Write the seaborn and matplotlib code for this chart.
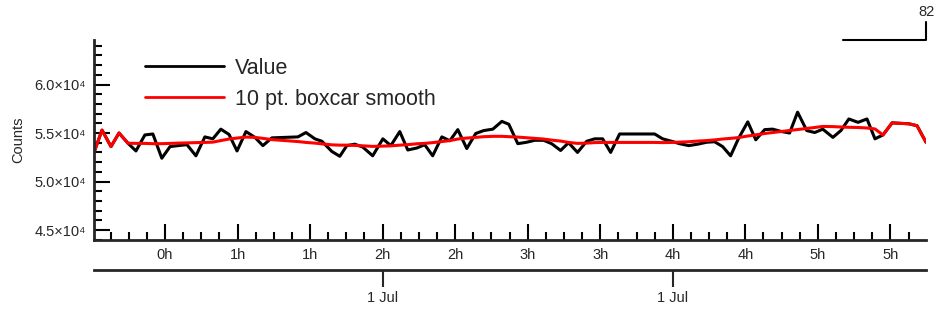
import matplotlib.pyplot as plt
from matplotlib.ticker import MultipleLocator
import pandas as pd
import seaborn as sns

# sample times (minutes after 00:00, 1 Jul)
minutes = [0.66, 3.97, 7.69, 11.0, 14.7, 18.0, 21.7, 25.0, 28.7, 32.1,
           35.4, 39.1, 42.8, 46.5, 49.8, 53.1, 56.5, 59.8, 63.5, 67.2,
           70.5, 74.2, 85.0, 88.3, 92.0, 94.9, 99.0, 102.3, 105.2, 108.5,
           111.8, 115.9, 120.1, 123.4, 127.1, 130.4, 134.1, 137.4, 140.7, 144.5,
           147.8, 151.1, 154.8, 158.5, 161.8, 165.6, 169.3, 172.2, 175.9, 179.6,
           182.9, 186.6, 189.9, 193.6, 196.9, 200.6, 204.4, 207.7, 211.0, 214.3,
           218.0, 232.5, 235.8, 239.5, 242.8, 246.6, 250.3, 254.0, 257.3, 260.6,
           263.9, 267.2, 271.0, 274.3, 278.0, 281.3, 285.0, 288.3, 291.6, 295.4,
           298.7, 302.0, 306.2, 309.5, 312.8, 316.6, 320.3, 323.6, 326.9, 330.7,
           334.0, 337.7, 341.0, 344.7]

value = [53000, 55300, 53600, 55000, 53950, 53150, 54800, 54900, 52400, 53600,
         53700, 53800, 52650, 54600, 54400, 55400, 54850, 53150, 55150, 54550,
         53700, 54500, 54600, 55050, 54400, 54150, 53100, 52600, 53700, 53850,
         53550, 52650, 54400, 53700, 55150, 53250, 53450, 53800, 52650, 54600,
         54200, 55350, 53400, 54950, 55250, 55400, 56200, 55900, 53900, 54050,
         54250, 54250, 53900, 53200, 54000, 53000, 54150, 54400, 54400, 53000,
         54900, 54900, 54400, 54150, 53900, 53700, 53850, 54050, 54100, 53600,
         52650, 54450, 56150, 54300, 55350, 55400, 55150, 55000, 57150, 55250,
         55050, 55400, 54550, 55250, 56450, 56100, 56450, 54400, 54800, 56050,
         56000, 55950, 55750, 54050]

smooth = [53000, 55300, 53600, 55000, 53950, 53930, 53930, 53900, 53900, 53930,
          53960, 53980, 54010, 54030, 54060, 54220, 54380, 54480, 54580, 54550,
          54450, 54320, 54120, 54030, 53960, 53880, 53780, 53750, 53750, 53720,
          53680, 53620, 53650, 53680, 53750, 53800, 53890, 53930, 54010, 54120,
          54220, 54380, 54480, 54550, 54620, 54660, 54660, 54620, 54580, 54510,
          54450, 54380, 54270, 54170, 54030, 53930, 53960, 54010, 54030, 54030,
          54030, 54030, 54010, 54030, 54060, 54100, 54170, 54220, 54290, 54380,
          54450, 54530, 54690, 54810, 54950, 55050, 55160, 55260, 55360, 55470,
          55570, 55680, 55660, 55620, 55590, 55570, 55520, 55420, 54800, 56050,
          56000, 55950, 55750, 54050]

hour_ticks = [30, 60, 90, 120, 150, 180, 210, 240, 270, 300, 330]
hour_labels = ["0h", "1h", "1h", "2h", "2h", "3h", "3h", "4h", "4h", "5h", "5h"]
day_ticks = [120, 240]
day_labels = ["1 Jul", "1 Jul"]
count_ticks = [45000, 50000, 55000, 60000]
count_labels = ["4.5×10⁴", "5.0×10⁴", "5.5×10⁴", "6.0×10⁴"]

sns.set_style("ticks")
plt.rcParams['font.family'] = ['Liberation Sans', 'DejaVu Sans']

df = pd.concat([
    pd.DataFrame({'t': minutes, 'Counts': value, 'Type': 'Value'}),
    pd.DataFrame({'t': minutes, 'Counts': smooth, 'Type': '10 pt. boxcar smooth'}),
])

fig = plt.figure(figsize=(9.38, 3.15), dpi=100)
ax = fig.add_axes([94 / 938, 75 / 315, 832 / 938, 200 / 315])
sns.lineplot(data=df, x='t', y='Counts', hue='Type', palette=['black', 'red'],
             linewidth=2.2, ax=ax)

ax.set_xlim(minutes[0], minutes[-1])
ax.set_ylim(43970, 64590)
sns.despine(ax=ax)
for side in ['left', 'bottom']:
    ax.spines[side].set_linewidth(2)

ax.set_xticks(hour_ticks, hour_labels)
ax.xaxis.set_minor_locator(MultipleLocator(7.5))
ax.set_yticks(count_ticks, count_labels)
ax.yaxis.set_minor_locator(MultipleLocator(1000))
ax.tick_params(which='both', direction='in', width=1.5, labelsize=10.5, color='black')
ax.tick_params(which='major', length=11.5)
ax.tick_params(which='minor', length=5.8)
ax.tick_params(axis='x', which='major', pad=6)
ax.tick_params(axis='y', which='major', pad=6)

ax.set_xlabel('')
ax.set_ylabel('Counts', fontsize=10.5)
ax.yaxis.set_label_coords(-0.083, 0.5)

# second (date) axis row under the hours
sec = ax.secondary_xaxis(-0.15)
sec.set_xticks(day_ticks, day_labels)
sec.tick_params(direction='out', length=12, width=1.5, labelsize=10.5, pad=3)
sec.spines['bottom'].set_linewidth(2)

# small top-right marker
ax.plot([0.9, 1, 1], [1, 1, 1.09], transform=ax.transAxes, color='black',
        lw=1.5, clip_on=False)
ax.text(1, 1.14, '82', ha='center', va='center', transform=ax.transAxes, fontsize=10.5)

handles, labels = ax.get_legend_handles_labels()
leg = ax.legend(handles, labels, loc='upper left', bbox_to_anchor=(0.061, 0.91),
                frameon=False, fontsize=15.5, handlelength=3.7, handletextpad=0.47,
                labelspacing=0.45, borderpad=0, borderaxespad=0)
for h in leg.get_lines():
    h.set_linewidth(2)

fig.savefig('out.png', dpi=100)
